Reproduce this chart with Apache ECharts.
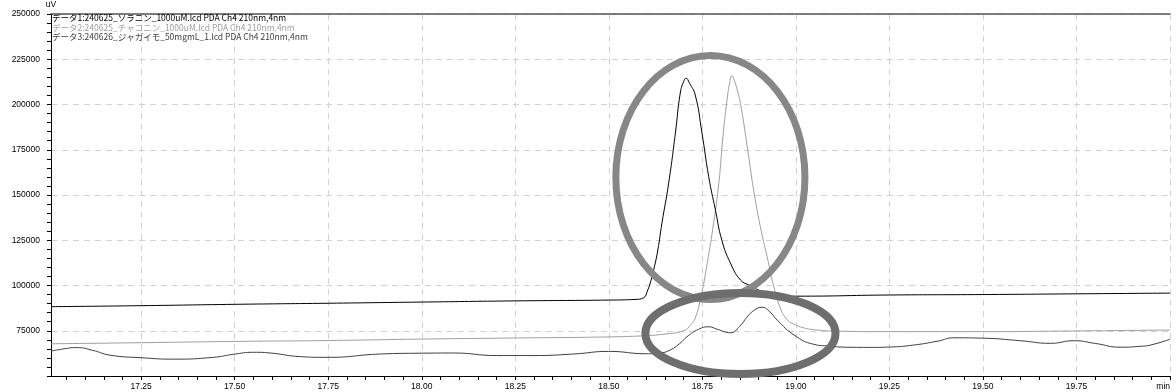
<!DOCTYPE html>
<html><head><meta charset="utf-8">
<script src="https://cdn.jsdelivr.net/npm/echarts@6/dist/echarts.min.js"></script>
<style>html,body{margin:0;padding:0;background:#fff}#c{width:1176px;height:392px}</style>
</head><body><div id="c"></div>
<script>
// ---- data (time in min, signal in uV) ----
const seriesNames = [
  'データ1:240625_ソラニン_1000uM.lcd PDA Ch4 210nm,4nm',
  'データ2:240625_チャコニン_1000uM.lcd PDA Ch4 210nm,4nm',
  'データ3:240626_ジャガイモ_50mgmL_1.lcd PDA Ch4 210nm,4nm'
];
const seriesColors = ['#000000', '#a0a0a0', '#404040'];

const solanine = [
  [17.009, 88300], [17.25, 88850], [17.50, 89600], [17.75, 90200], [18.00, 90850],
  [18.25, 91500], [18.50, 91950], [18.57, 92300], [18.592, 93100], [18.604, 97500],
  [18.613, 103000], [18.62, 108600], [18.631, 119600], [18.642, 134500], [18.66, 156600],
  [18.678, 184250], [18.691, 206350], [18.70, 212600], [18.707, 214500], [18.715, 212000],
  [18.731, 205250], [18.749, 184250], [18.767, 160100], [18.785, 141700], [18.802, 125100],
  [18.825, 112400], [18.852, 103000], [18.874, 100300], [18.90, 97500], [18.923, 95700],
  [18.95, 94600], [19.00, 94100], [19.25, 94750], [19.50, 95000], [19.75, 95400], [20.00, 95800]
];
const chaconine = [
  [17.009, 67800], [17.25, 68400], [17.50, 69100], [17.75, 69600], [18.00, 70400],
  [18.25, 71000], [18.50, 71600], [18.60, 72300], [18.65, 73200], [18.70, 75000],
  [18.72, 78500], [18.73, 81500], [18.745, 92500], [18.763, 112250], [18.78, 134350],
  [18.794, 156460], [18.805, 182200], [18.816, 202500], [18.823, 212000], [18.829, 215900],
  [18.836, 213000], [18.844, 207500], [18.852, 200500], [18.87, 176700], [18.887, 152800],
  [18.905, 132500], [18.923, 116000], [18.94, 100200], [18.958, 87800], [18.975, 81500],
  [18.994, 78700], [19.02, 76700], [19.048, 75600], [19.10, 74850], [19.25, 74500],
  [19.50, 74500], [19.75, 74900], [20.00, 75400]
];
const potato = [
  [17.009, 63700], [17.04, 64900], [17.078, 65700], [17.12, 64200], [17.167, 61500],
  [17.25, 60100], [17.336, 59300], [17.443, 60300], [17.497, 62000], [17.55, 63100],
  [17.60, 62600], [17.675, 60700], [17.75, 60300], [17.889, 62150], [18.00, 62600],
  [18.085, 62700], [18.201, 61300], [18.30, 61300], [18.406, 62150], [18.50, 63600],
  [18.60, 62300], [18.64, 62800], [18.664, 64350], [18.69, 68000], [18.709, 71700],
  [18.74, 75800], [18.767, 77200], [18.79, 75800], [18.825, 73900], [18.85, 77500],
  [18.87, 82700], [18.89, 86500], [18.91, 88000], [18.93, 85500], [18.95, 80900],
  [18.995, 72650], [19.048, 67500], [19.09, 66500], [19.137, 65900], [19.20, 65800],
  [19.25, 66000], [19.315, 67100], [19.38, 69300], [19.422, 71100], [19.50, 70900],
  [19.60, 69500], [19.681, 68050], [19.743, 69500], [19.80, 68000], [19.868, 65900],
  [19.92, 66400], [19.948, 67100], [20.00, 70300]
];

// axis ranges and tick labels
const X_MIN = 17.009, X_MAX = 20.0;
const Y_MIN = 50000, Y_MAX = 250000, Y_STEP = 25000;
const xTickValues = [17.25, 17.50, 17.75, 18.00, 18.25, 18.50, 18.75, 19.00, 19.25, 19.50, 19.75, 20.00];
const xUnitLabel = 'min';
const yUnitLabel = 'uV';

// annotation ellipses: [centre time, centre signal, half-width (min), half-height (uV)]
const ellipseBig = [18.7715, 159700, 0.2527, 67400];
const ellipseSmall = [18.8518, 73500, 0.2541, 22400];

const xMinorTicks = [];
for (let i = 1; 17 + i * 0.05 <= 20.0001; i++) xMinorTicks.push(+(17 + i * 0.05).toFixed(2));

const numFont = 'Liberation Sans';
const cjkFont = 'Noto Sans CJK JP';
const gridLine = { show: true, lineStyle: { type: [6, 5], color: '#d2d2d2', width: 1 } };

const chart = echarts.init(document.getElementById('c'), null, { renderer: 'canvas' });
const allData = [solanine, chaconine, potato];

chart.setOption({
  animation: false,
  backgroundColor: '#fff',
  grid: { left: 51, right: 6, top: 14, bottom: 16, containLabel: false },
  legend: {
    orient: 'vertical', left: 47, top: 13, padding: 0, itemGap: 0,
    itemWidth: 0, itemHeight: 0, icon: 'rect', selectedMode: false,
    textStyle: { fontSize: 8.5, fontFamily: cjkFont, lineHeight: 9.7 },
    data: seriesNames.map((n, i) => ({ name: n, textStyle: { color: seriesColors[i] } }))
  },
  xAxis: [
    {
      type: 'value', min: X_MIN, max: X_MAX, position: 'bottom',
      axisLine: { show: true, onZero: false, lineStyle: { color: '#000', width: 1 } },
      axisTick: { show: true, customValues: xTickValues, length: 4, lineStyle: { color: '#000' } },
      axisLabel: {
        customValues: xTickValues, fontSize: 8.5, fontFamily: numFont, color: '#000', margin: 6,
        alignMaxLabel: 'right',
        formatter: v => (Math.abs(v - X_MAX) < 1e-6 ? xUnitLabel : v.toFixed(2))
      },
      splitLine: gridLine
    },
    {
      type: 'value', min: X_MIN, max: X_MAX, position: 'bottom',
      axisLine: { show: false, onZero: false },
      axisTick: { show: true, customValues: xMinorTicks, length: 4, lineStyle: { color: '#000' } },
      axisLabel: { show: false }, splitLine: { show: false }
    },
    {
      type: 'value', min: X_MIN, max: X_MAX, position: 'top',
      axisLine: { show: true, onZero: false, lineStyle: { color: '#555', width: 1.5 } },
      axisTick: { show: false }, axisLabel: { show: false }, splitLine: { show: false }
    }
  ],
  yAxis: {
    type: 'value', min: Y_MIN, max: Y_MAX, interval: Y_STEP,
    name: yUnitLabel, nameLocation: 'end', nameGap: 2,
    nameTextStyle: { fontSize: 8.5, fontFamily: numFont, color: '#000' },
    axisLine: { show: true, onZero: false, lineStyle: { color: '#000', width: 1 } },
    axisTick: { show: true, length: 4, lineStyle: { color: '#000' } },
    minorTick: { show: true, splitNumber: 5, length: 4, lineStyle: { color: '#000' } },
    axisLabel: {
      fontSize: 8.5, fontFamily: numFont, color: '#000', margin: 11,
      formatter: v => (v === Y_MIN ? '' : String(v))
    },
    splitLine: gridLine
  },
  series: allData.map((d, i) => ({
    name: seriesNames[i], type: 'line', data: d, xAxisIndex: 0,
    showSymbol: false, smooth: 0.5,
    lineStyle: { color: seriesColors[i], width: 1 }, itemStyle: { color: seriesColors[i] },
    z: 3 - i
  }))
});

function ellipseGraphic(e, color, w, z) {
  const c = chart.convertToPixel({ gridIndex: 0 }, [e[0], e[1]]);
  const r = chart.convertToPixel({ gridIndex: 0 }, [e[0] + e[2], e[1] + e[3]]);
  return {
    type: 'ellipse', z: z, silent: true,
    shape: { cx: c[0], cy: c[1], rx: Math.abs(r[0] - c[0]), ry: Math.abs(r[1] - c[1]) },
    style: { fill: null, stroke: color, lineWidth: w }
  };
}
chart.setOption({
  graphic: [
    ellipseGraphic(ellipseBig, '#878787', 7, 100),
    ellipseGraphic(ellipseSmall, '#6e6e6e', 8, 101)
  ]
});
</script>
</body></html>
